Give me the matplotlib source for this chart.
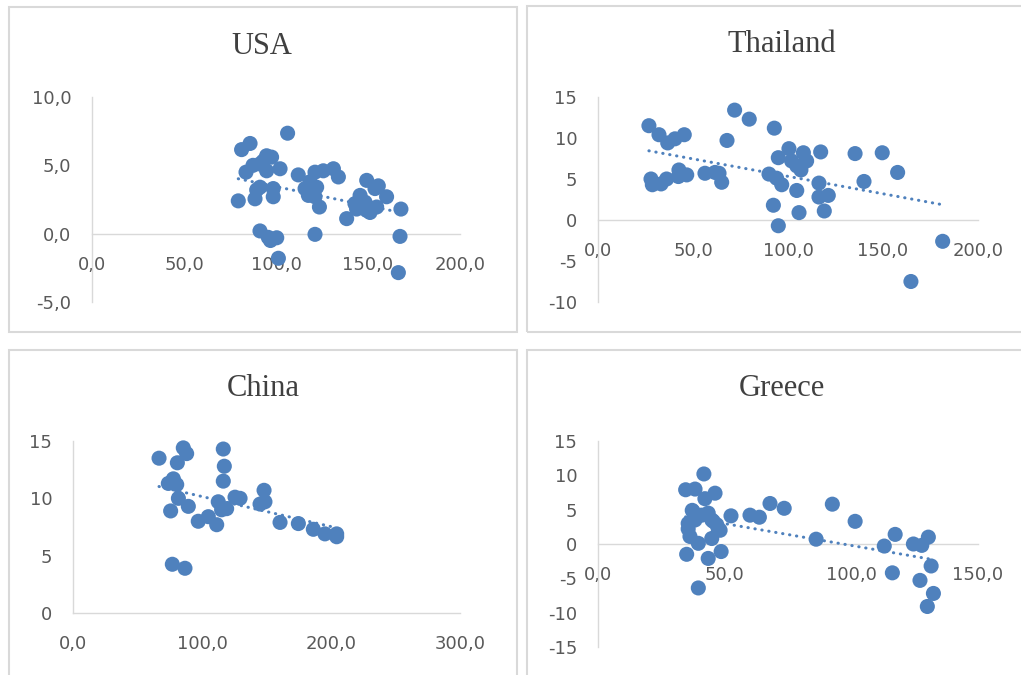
import numpy as np
import matplotlib.pyplot as plt
from matplotlib.patches import Rectangle

# Country scatter data: x and y values per panel.
usa_x = [79.5, 81.3, 85.9, 83.7, 94.9, 97.6, 91.3, 102.2, 94.9, 89.5, 91.3, 88.6,
         98.5, 98.5, 106.3, 112.1, 121.2, 131.2, 133.9, 125.7, 118.5, 122.1, 117.6,
         121.2, 115.8, 123.6, 121.2, 149.3, 153.8, 160.1, 145.7, 148.4, 143.8, 151.1,
         138.4, 154.7, 167.9, 167.4, 166.5, 91.3, 95.8, 100.4, 101.3, 87.5, 93.0,
         97.0, 155.6, 149.3, 142.9]
usa_y = [2.4, 6.15, 6.6, 4.5, 5.7, 5.6, 5.1, 4.75, 4.6, 3.2, 3.4, 2.55,
         2.7, 3.3, 7.35, 4.3, 4.5, 4.75, 4.15, 4.6, 3.8, 3.4, 2.8,
         2.7, 3.3, 1.95, -0.05, 3.9, 3.3, 2.7, 2.8, 2.3, 1.8, 1.55,
         1.1, 1.95, 1.8, -0.2, -2.85, 0.2, -0.27, -0.3, -1.8, 5.0, 5.3,
         -0.5, 3.5, 1.7, 2.2]

thai_x = [26.8, 32.1, 36.7, 40.5, 45.4, 27.9, 28.6, 33.2, 36.1, 42.6, 42.3, 46.7,
          56.3, 61.6, 65.1, 63.7, 67.9, 71.9, 79.6, 92.8, 90.0, 94.0, 96.7, 92.3,
          94.9, 94.9, 100.5, 101.9, 104.6, 108.1, 109.8, 106.8, 104.6, 105.8, 117.2,
          116.3, 116.3, 121.2, 119.1, 135.3, 140.0, 149.6, 157.7, 164.7, 181.4]
thai_y = [11.5, 10.4, 9.4, 9.9, 10.4, 5.0, 4.3, 4.4, 5.0, 6.1, 5.3, 5.5,
          5.7, 5.8, 4.6, 5.7, 9.7, 13.4, 12.3, 11.2, 5.6, 5.1, 4.3, 1.8,
          -0.7, 7.6, 8.7, 7.2, 6.6, 8.2, 7.2, 6.1, 3.6, 0.9, 8.3,
          4.5, 2.8, 3.0, 1.1, 8.1, 4.7, 8.2, 5.8, -7.5, -2.6]

china_x = [66.7, 85.5, 88.1, 80.9, 116.5, 117.3, 116.5, 77.8, 73.9, 80.4, 81.7, 89.4,
           75.7, 97.1, 104.9, 111.4, 112.6, 119.1, 125.6, 129.5, 115.2, 148.1, 145.0,
           148.8, 160.5, 174.7, 186.3, 195.3, 204.4, 204.4, 77.0, 86.8]
china_y = [13.5, 14.4, 13.9, 13.1, 14.3, 12.8, 11.5, 11.7, 11.3, 11.2, 10.0, 9.3,
           8.9, 8.0, 8.4, 7.7, 9.7, 9.1, 10.1, 10.0, 9.0, 10.7, 9.5,
           9.7, 7.9, 7.8, 7.3, 6.9, 6.9, 6.65, 4.25, 3.9]

greece_x = [41.8, 34.6, 38.3, 46.2, 42.2, 37.2, 35.6, 35.6, 38.3, 40.9, 44.9, 46.9,
            48.2, 36.3, 39.6, 44.9, 35.0, 43.5, 48.6, 39.6, 52.5, 60.0, 63.7, 67.9,
            73.5, 86.1, 92.5, 101.5, 113.0, 117.3, 116.2, 124.5, 127.8, 130.4, 131.5,
            127.1, 132.4, 130.0, 37.6, 47.5, 45.5, 43.5]
greece_y = [10.2, 7.9, 8.0, 7.4, 6.6, 4.9, 3.0, 2.2, 3.5, 4.2, 3.5, 2.8,
            2.0, 1.1, 0.1, 0.8, -1.5, -2.1, -1.1, -6.4, 4.1, 4.2, 3.9, 5.9,
            5.2, 0.7, 5.8, 3.3, -0.3, 1.4, -4.2, 0.0, -0.2, 1.0, -3.2,
            -5.3, -7.2, -9.1, 4.7, 2.1, 3.3, 4.5]

# Tick values and labels per panel.
usa_xticks, usa_xlabels = [0, 50, 100, 150, 200], ["0,0", "50,0", "100,0", "150,0", "200,0"]
usa_yticks, usa_ylabels = [-5, 0, 5, 10], ["-5,0", "0,0", "5,0", "10,0"]
thai_xticks, thai_xlabels = [0, 50, 100, 150, 200], ["0,0", "50,0", "100,0", "150,0", "200,0"]
thai_yticks, thai_ylabels = [-10, -5, 0, 5, 10, 15], ["-10", "-5", "0", "5", "10", "15"]
china_xticks, china_xlabels = [0, 100, 200, 300], ["0,0", "100,0", "200,0", "300,0"]
china_yticks, china_ylabels = [0, 5, 10, 15], ["0", "5", "10", "15"]
greece_xticks, greece_xlabels = [0, 50, 100, 150], ["0,0", "50,0", "100,0", "150,0"]
greece_yticks, greece_ylabels = [-15, -10, -5, 0, 5, 10, 15], ["-15", "-10", "-5", "0", "5", "10", "15"]

W, H = 1021, 675
BLUE = "#4F81BD"
GRID = "#D9D9D9"
TEXT = "#595959"

fig = plt.figure(figsize=(W / 100, H / 100), dpi=100)


def frac(l, t, r, b):
    return [l / W, 1 - b / H, (r - l) / W, (b - t) / H]


# Chart frames
for l, t, r, b in [(9, 7, 517, 332), (527, 6, 1030, 332), (9, 350, 517, 690), (527, 350, 1030, 690)]:
    fig.patches.append(Rectangle((l / W, 1 - b / H), (r - l) / W, (b - t) / H,
                                 transform=fig.transFigure, fill=False,
                                 edgecolor=GRID, lw=1.5))

panels = [
    ("USA", usa_x, usa_y, (92, 97, 460, 302), (0, 200), (-5, 10),
     usa_xticks, usa_xlabels, usa_yticks, usa_ylabels, (262, 47)),
    ("Thailand", thai_x, thai_y, (598, 97, 978, 302), (0, 200), (-10, 15),
     thai_xticks, thai_xlabels, thai_yticks, thai_ylabels, (782, 45)),
    ("China", china_x, china_y, (73, 441, 460, 613), (0, 300), (0, 15),
     china_xticks, china_xlabels, china_yticks, china_ylabels, (263, 388)),
    ("Greece", greece_x, greece_y, (598, 441, 978, 647), (0, 150), (-15, 15),
     greece_xticks, greece_xlabels, greece_yticks, greece_ylabels, (782, 388)),
]

for name, xs, ys, box, xlim, ylim, xt, xl, yt, yl, tpos in panels:
    ax = fig.add_axes(frac(*box))
    ax.set_facecolor("none")
    xs = np.array(xs)
    ys = np.array(ys)
    ax.scatter(xs, ys, s=118, color=BLUE, edgecolors="none", zorder=3, clip_on=False)

    # Linear trendline over the data range
    k, c = np.polyfit(xs, ys, 1)
    tx = np.array([xs.min(), xs.max()])
    ax.plot(tx, k * tx + c, color=BLUE, lw=2.2, linestyle=(0, (0.1, 2.2)),
            dash_capstyle="round", zorder=4)

    ax.set_xlim(*xlim)
    ax.set_ylim(*ylim)
    for side in ("top", "right"):
        ax.spines[side].set_visible(False)
    ax.spines["bottom"].set_position(("data", 0))
    for side in ("left", "bottom"):
        ax.spines[side].set_color(GRID)
        ax.spines[side].set_linewidth(1.0)
    ax.set_xticks(xt)
    ax.set_xticklabels(xl)
    ax.set_yticks(yt)
    ax.set_yticklabels(yl)
    ax.tick_params(axis="x", length=0, pad=16, labelsize=13, labelcolor=TEXT)
    ax.tick_params(axis="y", length=0, pad=15, labelsize=13, labelcolor=TEXT)

    fig.text(tpos[0] / W, 1 - tpos[1] / H, name, ha="center", va="center",
             family="Liberation Serif", fontsize=22, color="#404040")

fig.savefig("out.png", dpi=100, facecolor="white")
